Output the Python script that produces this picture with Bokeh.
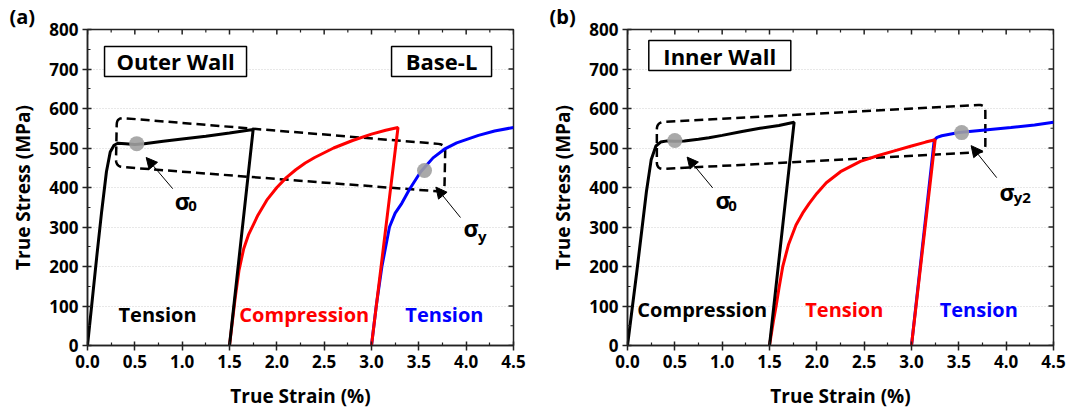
from bokeh.plotting import figure
from bokeh.models import Range1d, FixedTicker, NumeralTickFormatter, Arrow, NormalHead
from bokeh.layouts import row
from bokeh.embed import file_html
from bokeh.resources import INLINE
from bokeh.core.properties import value
import numpy as np

FONT = "Open Sans"

# ---------------- Panel (a): Outer Wall ----------------
a_black_strain = [0.0, 0.05, 0.10, 0.15, 0.20, 0.24, 0.28, 0.32, 0.40, 0.50, 0.60, 0.80, 1.00, 1.25, 1.50, 1.75, 1.50]
a_black_stress = [0, 115, 230, 340, 440, 490, 507, 512, 511, 509, 511, 517, 523, 530, 538, 547, 0]

a_red_strain = [1.50, 1.53, 1.56, 1.60, 1.65, 1.70, 1.75, 1.80, 1.90, 2.00, 2.10, 2.20, 2.30, 2.40, 2.60, 2.80, 3.00, 3.15, 3.28, 3.00]
a_red_stress = [0, 60, 120, 190, 245, 280, 305, 330, 370, 400, 425, 445, 462, 476, 500, 519, 535, 545, 552, 0]

a_blue_strain = [3.00, 3.05, 3.11, 3.19, 3.25, 3.32, 3.40, 3.52, 3.65, 3.77, 3.90, 4.13, 4.30, 4.50]
a_blue_stress = [0, 100, 200, 300, 335, 360, 395, 440, 475, 497, 513, 532, 543, 552]

a_marker_strain = [0.52, 3.56]
a_marker_stress = [511, 443]

# ---------------- Panel (b): Inner Wall ----------------
b_black_strain = [0.0, 0.05, 0.10, 0.15, 0.20, 0.25, 0.30, 0.35, 0.42, 0.50, 0.60, 0.75, 0.86, 1.00, 1.21, 1.40, 1.60, 1.76, 1.50]
b_black_stress = [0, 95, 190, 290, 390, 470, 505, 515, 518, 517, 518, 522, 526, 532, 542, 550, 557, 565, 0]

b_red_strain = [1.50, 1.54, 1.57, 1.60, 1.64, 1.70, 1.78, 1.85, 1.92, 2.00, 2.10, 2.25, 2.46, 2.65, 2.81, 3.00, 3.15, 3.25, 3.00]
b_red_stress = [0, 60, 100, 145, 200, 255, 305, 335, 360, 385, 412, 440, 466, 481, 492, 505, 515, 521, 0]

b_blue_strain = [3.00, 3.24, 3.27, 3.32, 3.50, 3.75, 4.05, 4.30, 4.50]
b_blue_stress = [0, 520, 527, 531, 539, 545, 552, 558, 565]

b_marker_strain = [0.50, 3.53]
b_marker_stress = [519, 539]

# tick values
x_ticks = [0.0, 0.5, 1.0, 1.5, 2.0, 2.5, 3.0, 3.5, 4.0, 4.5]
y_ticks = [0, 100, 200, 300, 400, 500, 600, 700, 800]
x_minor = [v + 0.25 for v in x_ticks[:-1]]
y_minor = [v + 50 for v in y_ticks[:-1]]

FRAME_W = 426
FRAME_H = 316
X_MAX = 4.5
Y_MAX = 800
AX_COL = "#222222"


def rounded_path(corners, r_px=7, n=8):
    """Closed rounded polygon through data-space corners (rounded in screen space)."""
    sx = FRAME_W / X_MAX
    sy = FRAME_H / Y_MAX
    pts = [np.array([c[0] * sx, c[1] * sy]) for c in corners]
    out = []
    m = len(pts)
    for i in range(m):
        P = pts[i]
        A = pts[i - 1]
        B = pts[(i + 1) % m]
        da = (A - P) / np.linalg.norm(A - P)
        db = (B - P) / np.linalg.norm(B - P)
        P1 = P + r_px * da
        P2 = P + r_px * db
        for t in np.linspace(0, 1, n):
            out.append((1 - t) ** 2 * P1 + 2 * (1 - t) * t * P + t ** 2 * P2)
    out.append(out[0])
    return [q[0] / sx for q in out], [q[1] / sy for q in out]


def base_figure(tag, border_left, border_right):
    p = figure(frame_width=FRAME_W, frame_height=FRAME_H,
               x_range=Range1d(0, X_MAX), y_range=Range1d(0, Y_MAX),
               output_backend="svg", toolbar_location=None,
               min_border_left=border_left, min_border_right=border_right,
               min_border_top=24, min_border_bottom=65,
               background_fill_color="white", border_fill_color="white",
               title=tag, title_location="above")
    p.title.align = "left"
    p.title.offset = -78
    p.title.standoff = 0
    p.title.text_font = FONT
    p.title.text_font_style = "bold"
    p.title.text_font_size = "20px"
    p.title.text_color = "black"

    p.outline_line_color = AX_COL
    p.outline_line_width = 1.5
    p.xgrid.visible = False
    p.ygrid.ticker = FixedTicker(ticks=y_ticks)
    p.ygrid.grid_line_color = "#d0d0d0"
    p.ygrid.grid_line_dash = "1 2"
    p.ygrid.grid_line_width = 1

    xt = FixedTicker(ticks=x_ticks, minor_ticks=x_minor)
    yt = FixedTicker(ticks=y_ticks, minor_ticks=y_minor)
    for ax, tk in ((p.xaxis[0], xt), (p.yaxis[0], yt)):
        ax.ticker = tk
        ax.axis_line_color = AX_COL
        ax.axis_line_width = 1.5
        ax.major_tick_line_color = AX_COL
        ax.minor_tick_line_color = AX_COL
        ax.major_tick_line_width = 1.5
        ax.minor_tick_line_width = 1.2
        ax.major_tick_out = 5
        ax.major_tick_in = 4
        ax.minor_tick_out = 0
        ax.minor_tick_in = 3
        ax.major_label_text_font = FONT
        ax.major_label_text_font_style = "bold"
        ax.major_label_text_font_size = "17px"
        ax.major_label_text_color = "black"
        ax.major_label_standoff = 4
        ax.axis_label_text_font = FONT
        ax.axis_label_text_font_style = "bold"
        ax.axis_label_text_font_size = "19px"
        ax.axis_label_text_color = "black"
    p.xaxis[0].formatter = NumeralTickFormatter(format="0.0")
    p.yaxis[0].formatter = NumeralTickFormatter(format="0")
    p.xaxis[0].axis_label = "True Strain (%)"
    p.yaxis[0].axis_label = "True Stress (MPa)"
    p.xaxis[0].axis_label_standoff = 12
    p.yaxis[0].axis_label_standoff = 10

    # mirrored inward ticks on the top and right edges of the frame
    p.ray(x=x_ticks, y=[Y_MAX] * len(x_ticks), length=5, length_units="screen",
          angle=-np.pi / 2, line_color=AX_COL, line_width=1.5)
    p.ray(x=x_minor, y=[Y_MAX] * len(x_minor), length=3, length_units="screen",
          angle=-np.pi / 2, line_color=AX_COL, line_width=1.2)
    p.ray(x=[X_MAX] * len(y_ticks), y=y_ticks, length=5, length_units="screen",
          angle=np.pi, line_color=AX_COL, line_width=1.5)
    p.ray(x=[X_MAX] * len(y_minor), y=y_minor, length=3, length_units="screen",
          angle=np.pi, line_color=AX_COL, line_width=1.2)
    return p


def add_text(p, x, y, txt, color="black", size="20px"):
    p.text(x=[x], y=[y], text=[txt], text_font=value(FONT), text_font_style="bold",
           text_font_size=size, text_color=color, text_align="center", text_baseline="middle")


def add_box_label(p, x, y, w_px, txt):
    p.rect(x=[x], y=[y], width=[w_px], height=[30], width_units="screen", height_units="screen",
           fill_color="white", line_color="black", line_width=1.5)
    add_text(p, x, y, txt, size="22px")


def add_sigma(p, x, y, sub, sub_x, sub_y):
    add_text(p, x, y, "σ", size="23px")
    add_text(p, sub_x, sub_y, sub, size="15px")


def add_arrow(p, x0, y0, x1, y1):
    p.add_layout(Arrow(end=NormalHead(size=11, fill_color="black", line_color="black"),
                       x_start=x0, y_start=y0, x_end=x1, y_end=y1,
                       line_color="black", line_width=1))


# ---------------- Build panel (a) ----------------
pa = base_figure("(a)", 87, 27)
bx, by = rounded_path([(0.31, 577), (3.78, 509), (3.77, 389), (0.30, 453)])
pa.line(bx, by, line_color="black", line_width=2.5, line_dash="9 5")
pa.line(a_blue_strain, a_blue_stress, line_color="#0000ff", line_width=3)
pa.line(a_red_strain, a_red_stress, line_color="#ff0000", line_width=3)
pa.line(a_black_strain, a_black_stress, line_color="black", line_width=3)
pa.scatter(a_marker_strain, a_marker_stress, size=15, fill_color="#a0a0a0", line_color=None, fill_alpha=0.9)
add_box_label(pa, 0.93, 719, 142, "Outer Wall")
add_box_label(pa, 3.74, 719, 100, "Base-L")
add_text(pa, 0.74, 78, "Tension", "black")
add_text(pa, 2.29, 78, "Compression", "#ff0000")
add_text(pa, 3.77, 78, "Tension", "#0000ff")
add_arrow(pa, 0.90, 397, 0.62, 476)
add_sigma(pa, 1.00, 367, "0", 1.11, 352)
add_arrow(pa, 3.94, 324, 3.68, 401)
add_sigma(pa, 4.05, 298, "y", 4.17, 276)

# ---------------- Build panel (b) ----------------
pb = base_figure("(b)", 87, 13)
bx, by = rounded_path([(0.31, 565), (3.78, 610), (3.78, 490), (0.31, 446)])
pb.line(bx, by, line_color="black", line_width=2.5, line_dash="9 5")
pb.line(b_blue_strain, b_blue_stress, line_color="#0000ff", line_width=3)
pb.line(b_red_strain, b_red_stress, line_color="#ff0000", line_width=3)
pb.line(b_black_strain, b_black_stress, line_color="black", line_width=3)
pb.scatter(b_marker_strain, b_marker_stress, size=15, fill_color="#a0a0a0", line_color=None, fill_alpha=0.9)
add_box_label(pb, 0.975, 734, 142, "Inner Wall")
add_text(pb, 0.79, 91, "Compression", "black")
add_text(pb, 2.29, 91, "Tension", "#ff0000")
add_text(pb, 3.71, 91, "Tension", "#0000ff")
add_arrow(pb, 0.90, 399, 0.63, 477)
add_sigma(pb, 1.01, 369, "0", 1.11, 352)
add_arrow(pb, 3.90, 425, 3.63, 506)
add_sigma(pb, 4.01, 389, "y2", 4.17, 375)

layout = row(pa, pb, spacing=0)
open("out.html", "w").write(file_html(layout, INLINE))
